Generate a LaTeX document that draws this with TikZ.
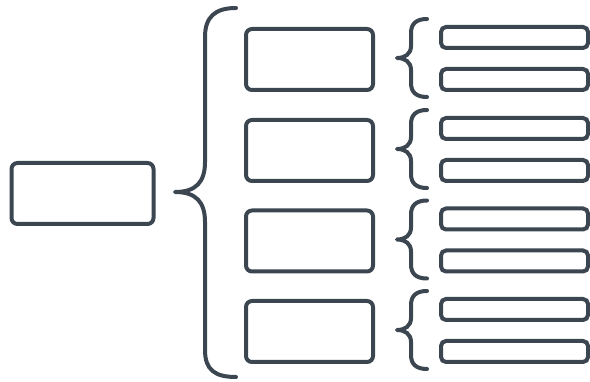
\documentclass[tikz,border=0pt]{standalone}
\definecolor{ink}{HTML}{3B4651}
\tikzset{
  box/.style={draw=ink, line width=4pt, rounded corners=6pt, inner sep=0pt, anchor=north west},
  bar/.style={draw=ink, line width=4pt, rounded corners=5pt, inner sep=0pt, anchor=north west, minimum width=147pt, minimum height=21pt},
  brace/.style={draw=ink, line width=4pt, line cap=round, line join=round}
}
\begin{document}
\begin{tikzpicture}[x=1pt,y=-1pt]
\useasboundingbox (0,0) rectangle (590,382);
\node[box, minimum width=142pt, minimum height=61pt] (root) at (9.5,161) {};
\draw[brace] (236,8) .. controls (215,8) and (205,17) .. (205,37) -- (205,162)
  .. controls (205,182) and (196,192) .. (175,192)
  .. controls (196,192) and (205,202) .. (205,222) -- (205,350)
  .. controls (205,370) and (215,377) .. (236,377);
\foreach \i/\dy in {1/0,2/91,3/181.5,4/272}{
  \node[box, minimum width=127pt, minimum height=61pt] (m\i) at (244,27+\dy) {};
  \node[bar] (s\i a) at (439,25+\dy) {};
  \node[bar] (s\i b) at (439,67+\dy) {};
  \draw[brace] (427,19+\dy) .. controls (416,19+\dy) and (411,24+\dy) .. (411,33+\dy) -- (411,46+\dy)
    .. controls (411,54+\dy) and (405,58+\dy) .. (397,58+\dy)
    .. controls (405,58+\dy) and (411,62+\dy) .. (411,70+\dy) -- (411,83+\dy)
    .. controls (411,92+\dy) and (416,97+\dy) .. (427,97+\dy);
}
\end{tikzpicture}
\end{document}
